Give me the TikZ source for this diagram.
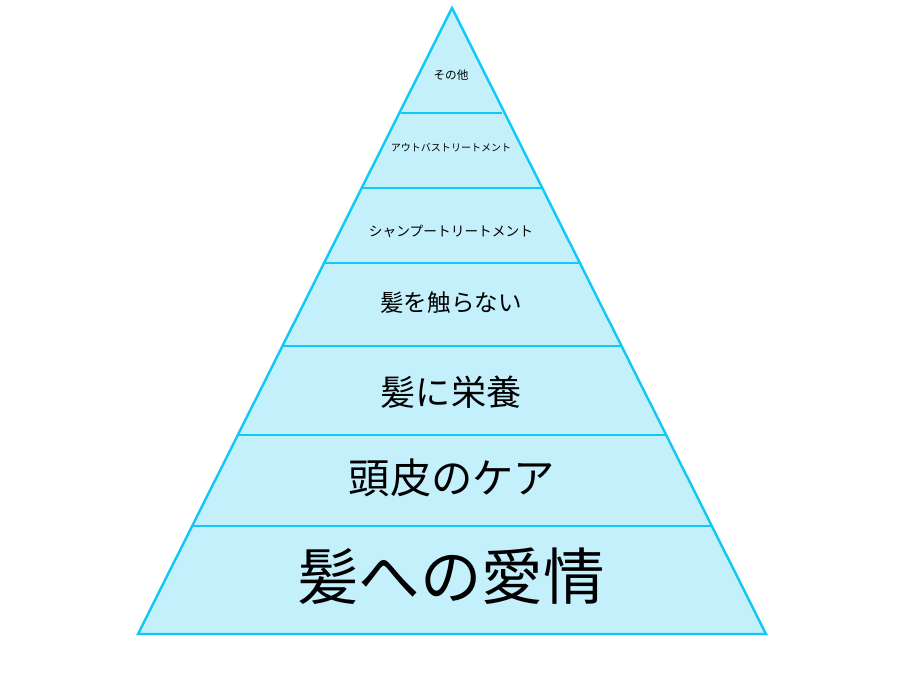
\documentclass[tikz,border=0pt]{standalone}
\usepackage{fontspec}
\newfontfamily\cjk{Noto Sans CJK JP}
\definecolor{layerfill}{RGB}{196,240,252}
\definecolor{layerline}{RGB}{20,200,245}
\tikzset{
  layertext/.style={font=\cjk, inner sep=0pt, anchor=center},
  divider/.style={draw=layerline, line width=1.4pt}
}
\begin{document}
\begin{tikzpicture}[x=0.02cm,y=-0.02cm]
	\useasboundingbox (0,0) rectangle (907,680);
	% pyramid outline
	\coordinate (apex) at (452,8);
	\coordinate (baseL) at (138,634);
	\coordinate (baseR) at (766,634);
	\filldraw [fill=layerfill, draw=layerline, line width=1.4pt, line join=miter] (apex) -- (baseR) -- (baseL) -- cycle;
	% layer dividers
	\foreach \y/\xl/\xr in {113/401/502, 188/362/542, 263/325/581, 346/283/621, 435/237/665, 526/192/711}
		\draw [divider] (\xl,\y) -- (\xr,\y);
	% labels
	\node [layertext, font=\cjk\fontsize{6.6pt}{8pt}\selectfont] (other) at (451,75) {その他};
	\node [layertext, font=\cjk\fontsize{5.7pt}{7pt}\selectfont] (outbath) at (451,148) {アウトバストリートメント};
	\node [layertext, font=\cjk\fontsize{7.8pt}{9pt}\selectfont] (shampoo) at (451,231) {シャンプートリートメント};
	\node [layertext, font=\cjk\fontsize{13.4pt}{15pt}\selectfont] (notouch) at (451,303) {髪を触らない};
	\node [layertext, font=\cjk\fontsize{20pt}{22pt}\selectfont] (nutrition) at (451,392) {髪に栄養};
	\node [layertext, font=\cjk\fontsize{23.5pt}{26pt}\selectfont] (scalp) at (452,478) {頭皮のケア};
	\node [layertext, font=\cjk\fontsize{35pt}{38pt}\selectfont] (love) at (451,576) {髪への愛情};
\end{tikzpicture}
\end{document}
